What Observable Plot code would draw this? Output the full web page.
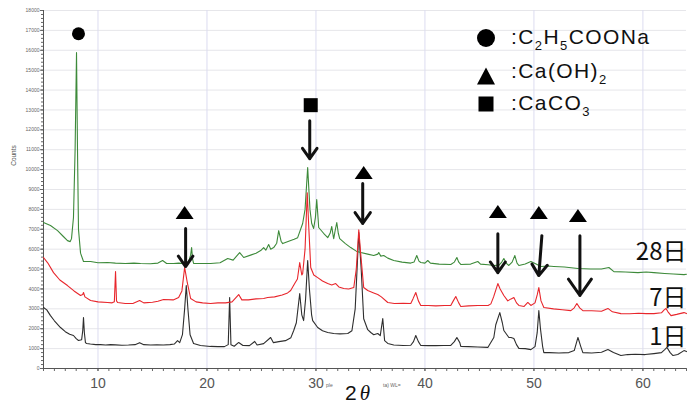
<!DOCTYPE html>
<html><head><meta charset="utf-8">
<script src="https://cdn.jsdelivr.net/npm/d3@7"></script>
<script src="https://cdn.jsdelivr.net/npm/@observablehq/plot@0.6"></script>
<style>
body{margin:0;background:#fff;}
#wrap{position:relative;width:696px;height:405px;overflow:hidden;font-family:"Liberation Sans",Arial,sans-serif;}
.abs{position:absolute;white-space:nowrap;}
.legt{font-size:21px;color:#111;letter-spacing:1.4px;}
.sub{font-size:13px;position:relative;top:6px;}
</style></head><body><div id="wrap"></div>
<script>
// [2θ, counts]
const day1 = [[5.0,3070],[5.3,2950],[5.64,2660],[6.0,2400],[6.56,2060],[7.0,1850],[7.4,1720],[7.75,1660],[8.0,1500],[8.21,1410],[8.5,1450],[8.6,1900],[8.67,2560],[8.75,1800],[8.85,1300],[8.95,1260],[9.3,1230],[9.8,1200],[10.23,1200],[10.7,1180],[11.15,1200],[11.6,1190],[12.2,1170],[12.8,1180],[13.4,1200],[13.82,1300],[14.2,1200],[14.83,1180],[15.4,1190],[16.0,1180],[16.6,1200],[17.0,1230],[17.3,1400],[17.5,1300],[17.75,1700],[17.95,3000],[18.1,4170],[18.25,3000],[18.45,1700],[18.77,1260],[19.4,1160],[20.33,1110],[21.0,1100],[21.6,1100],[21.95,1200],[22.08,3570],[22.2,1200],[22.5,1120],[22.91,1310],[23.3,1160],[23.9,1150],[24.38,1360],[24.6,1180],[25.2,1250],[25.84,1560],[26.1,1300],[26.6,1350],[27.2,1400],[27.7,1550],[27.96,1910],[28.2,2300],[28.51,3770],[28.7,2700],[28.87,2410],[29.05,3500],[29.24,5430],[29.4,4000],[29.6,2700],[29.7,2410],[30.16,2060],[30.6,1900],[31.08,1810],[31.63,1760],[32.2,1740],[32.92,1760],[33.3,1900],[33.6,3000],[33.93,6830],[34.15,5000],[34.38,2500],[34.75,1950],[35.03,1810],[35.3,1700],[35.67,1760],[35.9,1650],[36.13,2510],[36.3,1400],[36.59,1260],[37.14,1180],[38.0,1160],[38.7,1170],[38.95,1350],[39.16,1660],[39.4,1350],[39.62,1160],[40.3,1150],[41.0,1150],[41.7,1160],[42.37,1160],[42.7,1350],[42.93,1560],[43.2,1300],[43.29,1110],[44.0,1100],[44.85,1080],[45.77,1060],[46.32,1560],[46.5,2200],[46.87,2810],[47.1,2300],[47.24,1910],[47.7,1560],[47.9,1560],[48.16,1510],[48.4,1200],[48.62,1010],[49.2,1000],[49.72,950],[50.1,1100],[50.3,1800],[50.45,2910],[50.6,2000],[50.8,1100],[50.91,800],[51.4,800],[52.3,780],[53.2,800],[53.7,900],[54.04,1560],[54.3,1100],[54.49,800],[55.3,780],[56.2,820],[56.79,950],[57.3,800],[57.98,650],[58.6,700],[59.3,720],[60.2,700],[61.01,750],[61.7,800],[62.0,950],[62.21,1060],[62.5,800],[62.76,650],[63.2,700],[63.77,900],[64,850]];
const day7 = [[5.0,5580],[5.4,5300],[5.92,4820],[6.5,4450],[7.2,4170],[7.8,3900],[8.4,3670],[8.6,3720],[8.67,3820],[8.8,3600],[9.32,3420],[10.0,3350],[10.88,3320],[11.3,3300],[11.5,3350],[11.61,4870],[11.7,3400],[11.8,3320],[12.5,3270],[13.2,3270],[13.82,3420],[14.2,3300],[15.0,3330],[15.5,3380],[16.02,3470],[16.9,3450],[17.4,3570],[17.7,3900],[17.95,5080],[18.2,4300],[18.5,3520],[19.0,3350],[19.6,3300],[20.33,3270],[21.0,3300],[21.7,3300],[22.3,3350],[22.91,3720],[23.2,3450],[23.8,3450],[24.5,3500],[25.2,3520],[25.57,3570],[26.2,3600],[26.9,3700],[27.4,3800],[27.68,3920],[28.05,4270],[28.3,4500],[28.51,5330],[28.7,4700],[28.78,4770],[29.0,6000],[29.2,8840],[29.35,7000],[29.52,5080],[29.8,4700],[30.16,4570],[30.6,4400],[31.08,4270],[31.45,4200],[31.81,4270],[32.1,4100],[32.55,4020],[33.0,4000],[33.47,4070],[33.7,5000],[33.93,6980],[34.1,5800],[34.38,4070],[34.75,3920],[35.3,3800],[35.67,3720],[36.0,3600],[36.59,3320],[37.2,3270],[38.0,3280],[38.7,3270],[38.9,3500],[39.16,3820],[39.4,3400],[39.62,3170],[40.3,3170],[41.0,3150],[41.8,3170],[42.37,3170],[42.6,3400],[42.83,3620],[43.1,3300],[43.29,3120],[44.0,3150],[44.85,3170],[45.8,3170],[46.05,3250],[46.3,3600],[46.69,4270],[46.9,4000],[47.24,3670],[47.6,3400],[47.9,3500],[48.16,3570],[48.4,3300],[48.62,3170],[49.1,3120],[49.44,3320],[49.72,3170],[50.1,3300],[50.3,3700],[50.45,4070],[50.65,3400],[50.91,3070],[51.8,3000],[52.6,2950],[53.39,2910],[53.7,3050],[53.94,3270],[54.2,3050],[54.49,2910],[55.3,2900],[56.2,2880],[56.79,3020],[57.2,2850],[57.98,2760],[58.8,2750],[59.6,2780],[60.3,2760],[61.01,2760],[61.7,2800],[61.95,2950],[62.12,3020],[62.3,2850],[62.58,2660],[63.1,2720],[63.77,2810],[64,2760]];
const day28 = [[5.0,7340],[5.64,7190],[6.29,6930],[6.8,6650],[7.2,6430],[7.45,6380],[7.57,6530],[7.75,7590],[7.9,11000],[8.03,15880],[8.12,11000],[8.21,7000],[8.4,5800],[8.67,5380],[9.32,5380],[10.0,5320],[10.88,5330],[11.6,5300],[12.5,5280],[13.3,5300],[13.91,5280],[14.8,5270],[15.5,5300],[15.93,5430],[16.3,5280],[16.94,5280],[17.4,5300],[17.86,5280],[18.3,5350],[18.5,5700],[18.59,6080],[18.68,5500],[18.77,5280],[19.42,5280],[20.33,5280],[21.2,5320],[21.9,5530],[22.4,5450],[23.0,5830],[23.37,5580],[24.0,5700],[24.5,5800],[24.93,5930],[25.2,6080],[25.4,5950],[25.66,6230],[25.85,6000],[26.12,6080],[26.4,6300],[26.58,6930],[26.8,6400],[26.95,6280],[27.5,6400],[28.0,6500],[28.32,6580],[28.78,7290],[29.0,8000],[29.24,10100],[29.45,8000],[29.61,7290],[29.79,7040],[29.95,7600],[30.07,8490],[30.2,7500],[30.25,7090],[30.7,6800],[31.08,6580],[31.3,6800],[31.45,7140],[31.6,6600],[31.63,6530],[31.75,6900],[31.91,7340],[32.05,6800],[32.18,6530],[32.7,6280],[33.19,6080],[33.7,5900],[34.11,5830],[34.75,5750],[35.3,5680],[35.67,5750],[35.76,5830],[35.95,5650],[36.22,5680],[36.59,5550],[37.14,5430],[37.9,5350],[38.7,5300],[39.0,5350],[39.25,5680],[39.45,5400],[39.62,5330],[40.0,5300],[40.26,5430],[40.5,5300],[41.3,5250],[42.37,5230],[42.7,5350],[42.93,5580],[43.1,5350],[43.29,5230],[44.2,5250],[44.85,5380],[45.1,5250],[45.8,5220],[46.32,5180],[46.8,5200],[47.05,5350],[47.24,5530],[47.45,5300],[47.7,5180],[48.0,5350],[48.25,5680],[48.45,5300],[48.62,5180],[49.2,5250],[49.72,5380],[50.2,5250],[50.64,5130],[51.3,5150],[51.83,5130],[52.8,5100],[54.04,5030],[55.2,5000],[56.2,5000],[56.88,5080],[57.34,4870],[58.4,4850],[59.55,4820],[60.3,4850],[61.01,4820],[62.0,4780],[62.8,4750],[63.77,4720],[64,4740]];

const seriesNames = ["1日","7日","28日"];
const seriesColors = ["#2e2e2e","#e8262c","#3d8a3a"];
const labelCounts = [1560, 3520, 5830];

const xTickLabels = [10,20,30,40,50,60];
const yTickLabels = d3.range(0, 18001, 1000);

const circleMarks = [[8.21,16830]];
const squareMarks = [[29.52,13240]];
const triangleMarks = [[17.95,7840],[34.38,9850],[46.69,7890],[50.45,7840],[54.04,7690]];
// [x1, y1, x2, y2]
const arrows = [[18.04,7035,18.04,5125],[29.43,12460,29.43,10550],[34.29,9300,34.29,7290],[46.69,6780,46.69,4820],[50.73,6680,50.45,4670],[54.22,6680,54.22,3670]];

const flatTri = {draw(ctx, size){ const r = Math.sqrt(size/Math.PI); const w = 1.5*r, h = 1.08*r; ctx.moveTo(0,-h); ctx.lineTo(w,h); ctx.lineTo(-w,h); ctx.closePath(); }};

const dataBy = [day1, day7, day28];
const drawOrder = [0, 2, 1];

const chart = Plot.plot({
  width: 696, height: 405,
  marginLeft: 43, marginRight: 10, marginTop: 10, marginBottom: 37,
  x: {domain: [5, 64]},
  y: {domain: [0, 18000]},
  style: {background: "transparent", fontFamily: "Liberation Sans, Arial, sans-serif"},
  marks: [
    Plot.gridY(yTickLabels, {stroke: "#e6e6ea", strokeOpacity: 1}),
    Plot.gridX(xTickLabels, {stroke: "#dcdcf0", strokeOpacity: 1}),
    Plot.axisY(d3.range(0, 18001, 200), {tickSize: 2, text: null, stroke: "#666", label: null}),
    Plot.axisY(yTickLabels, {tickSize: 3, tickPadding: 1, fontSize: 5, fill: "#666", stroke: "#666", tickFormat: d => String(d), label: null}),
    Plot.axisX(d3.range(5, 65, 1), {tickSize: 3, text: null, stroke: "#666", label: null}),
    Plot.axisX(xTickLabels, {tickSize: 3, tickPadding: 7, fontSize: 14, fill: "#555", stroke: "#666", label: null}),
    Plot.ruleX([5], {stroke: "#555"}),
    Plot.ruleY([0], {stroke: "#555"}),
    ...drawOrder.map(i => Plot.line(dataBy[i], {x: d => d[0], y: d => d[1], stroke: seriesColors[i], strokeWidth: 1.1})),
    Plot.arrow(arrows, {x1: d => d[0], y1: d => d[1], x2: d => d[2], y2: d => d[3], stroke: "#111", strokeWidth: 3, headLength: 11, headAngle: 70}),
    Plot.dot(circleMarks, {x: d => d[0], y: d => d[1], r: 6.5, fill: "#000", symbol: "circle"}),
    Plot.dot(squareMarks, {x: d => d[0], y: d => d[1], r: 7.9, fill: "#000", symbol: "square"}),
    Plot.dot(triangleMarks, {x: d => d[0], y: d => d[1], r: 6, fill: "#000", symbol: flatTri}),
    Plot.text(seriesNames.map((n, i) => ({n, y: labelCounts[i]})), {x: () => 64, y: "y", text: "n", textAnchor: "end", fontSize: 24, fill: "#111", fontFamily: "Noto Sans CJK JP", lineAnchor: "middle"})
  ]
});

const wrap = document.getElementById("wrap");
wrap.appendChild(chart);
function add(html, css, cls) { const d = document.createElement("div"); d.className = "abs " + (cls||""); d.innerHTML = html; Object.assign(d.style, css); wrap.appendChild(d); return d; }
// legend
const sym = (p) => `<svg width="22" height="22" viewBox="-11 -11 22 22" style="display:block">${p}</svg>`;
add(sym('<circle r="9" fill="#000"/>'), {left: "475px", top: "27px"});
add(sym('<path d="M0,-8.5L9,8.5L-9,8.5Z" fill="#000"/>'), {left: "475px", top: "65px"});
add(sym('<rect x="-7.5" y="-7.5" width="15" height="15" fill="#000"/>'), {left: "475px", top: "93px"});
add(':C<span class="sub">2</span>H<span class="sub">5</span>COONa', {left: "511px", top: "25px"}, "legt");
add(':Ca(OH)<span class="sub">2</span>', {left: "511px", top: "59px"}, "legt");
add(':CaCO<span class="sub">3</span>', {left: "511px", top: "91px"}, "legt");
// axis titles and stray labels
add('2<span style="font-family:\'Liberation Serif\';font-style:italic">θ</span>', {left: "345px", top: "381px", fontSize: "21px", color: "#111", letterSpacing: "3px"});
add('Counts', {left: "3px", top: "152px", fontSize: "6.5px", color: "#555", transform: "rotate(-90deg)", transformOrigin: "center"});
add('ple', {left: "326px", top: "382px", fontSize: "5px", color: "#666"});
add('ta) WL=', {left: "383px", top: "382px", fontSize: "5px", color: "#666"});
</script>
</body></html>
